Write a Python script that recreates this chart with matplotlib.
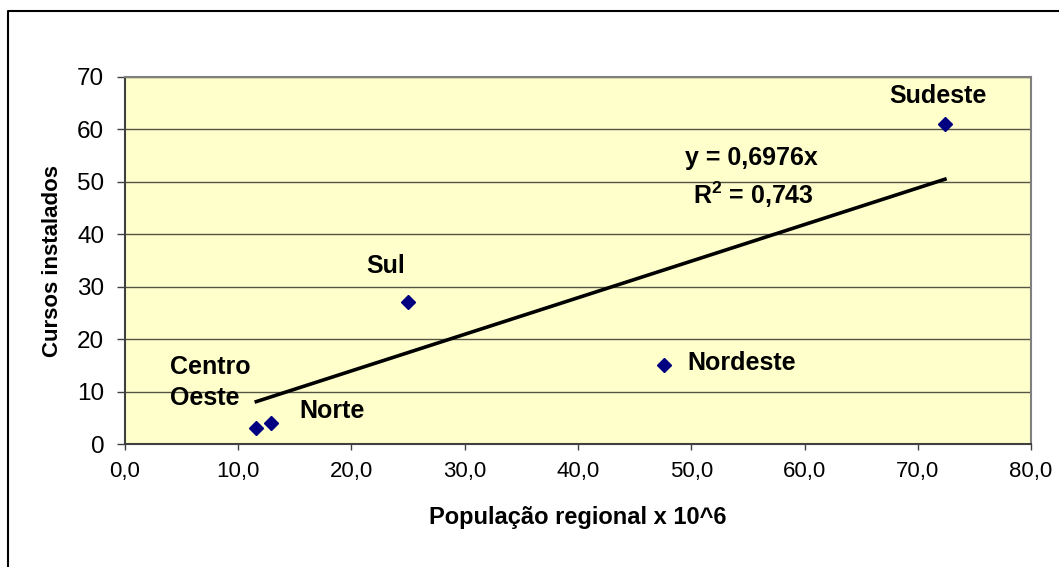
import numpy as np
import matplotlib
matplotlib.use('Agg')
import matplotlib.pyplot as plt
from matplotlib.lines import Line2D

plt.rcParams['font.family'] = ['Liberation Sans', 'DejaVu Sans']
plt.rcParams['mathtext.fontset'] = 'custom'
plt.rcParams['mathtext.rm'] = 'Liberation Sans'
plt.rcParams['mathtext.bf'] = 'Liberation Sans:bold'

# dados
regioes = ['Centro\nOeste', 'Norte', 'Sul', 'Nordeste', 'Sudeste']
populacao = [11.6, 12.9, 25.0, 47.6, 72.4]
cursos = [3, 4, 27, 15, 61]
coef = 0.6976
r2 = 0.743
x_ticks = [0, 10, 20, 30, 40, 50, 60, 70, 80]
y_ticks = [0, 10, 20, 30, 40, 50, 60, 70]

# posição e alinhamento dos rótulos de cada ponto
rotulo_pos = [(4.0, 11.7), (15.4, 6.3), (23.0, 34.0), (49.7, 15.4), (71.8, 66.4)]
rotulo_ha = ['left', 'left', 'center', 'left', 'center']

fig = plt.figure(figsize=(10.59, 5.67), dpi=100)
ax = fig.add_axes([0.1180, 0.2169, 0.9736 - 0.1180, 0.8642 - 0.2169])
ax.set_facecolor('#FFFFCC')

# linha de tendência (passa pela origem)
xt = np.array([min(populacao), max(populacao)])
ax.plot(xt, coef * xt, color='black', lw=2.6, zorder=3)

ax.plot(populacao, cursos, linestyle='none', marker='D', markersize=7,
        color='#000080', zorder=4)

for nome, (tx, ty), ha in zip(regioes, rotulo_pos, rotulo_ha):
    ax.text(tx, ty, nome, ha=ha, va='center', fontsize=18, fontweight='bold',
            linespacing=1.35, zorder=5)

ax.text(55.3, 54.5, 'y = %s' % ('%.4fx' % coef).replace('.', ','), ha='center',
        va='center', fontsize=18, fontweight='bold', zorder=5)
ax.text(55.5, 47.5, r'R$^{\mathbf{2}}$ = %s' % ('%.3f' % r2).replace('.', ','),
        ha='center', va='center', fontsize=18, fontweight='bold', zorder=5)

ax.set_xlim(0, 80)
ax.set_ylim(0, 70)
ax.set_xticks(x_ticks)
ax.set_xticklabels([('%.1f' % v).replace('.', ',') for v in x_ticks])
ax.set_yticks(y_ticks)
ax.tick_params(axis='y', labelsize=17.5, length=6, width=1, pad=9, color='#404040')
ax.tick_params(axis='x', labelsize=16, length=4.5, width=1, pad=8, color='#404040')

ax.yaxis.grid(True, color='#555544', lw=1)
ax.set_axisbelow(True)

for s in ['top', 'right']:
    ax.spines[s].set_color('#808080')
    ax.spines[s].set_linewidth(1.5)
for s in ['left', 'bottom']:
    ax.spines[s].set_color('#404040')
    ax.spines[s].set_linewidth(1.5)

ax.set_xlabel('População regional x 10^6', fontsize=17, fontweight='bold', labelpad=17)
ax.set_ylabel('Cursos instalados', fontsize=16, fontweight='bold', labelpad=10)

# moldura do gráfico (só esquerda e topo visíveis)
fig.add_artist(Line2D([0.0076, 0.0076, 1.0], [0.0, 0.9806, 0.9806],
                      transform=fig.transFigure, color='black', lw=1.5))

plt.savefig('out.png', dpi=100)
